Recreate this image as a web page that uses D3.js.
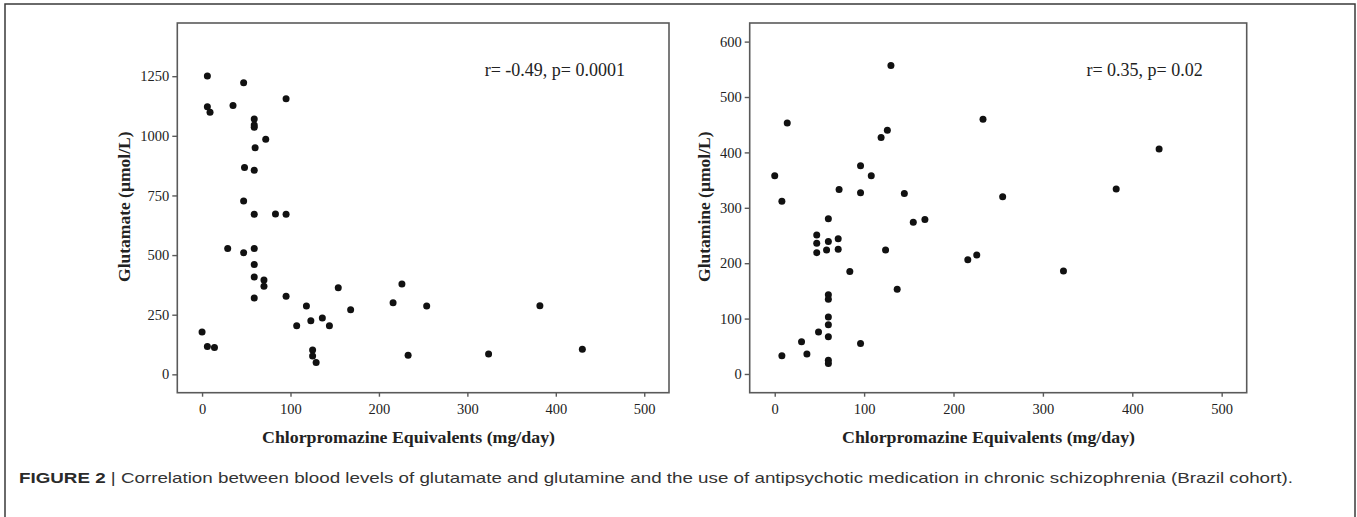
<!DOCTYPE html>
<html>
<head>
<meta charset="utf-8">
<script src="https://cdn.jsdelivr.net/npm/d3@7"></script>
<style>
  body { margin: 0; background: #fff; }
  svg { display: block; }
</style>
</head>
<body>
<svg id="fig" width="1357" height="517"></svg>
<script>
// Chlorpromazine equivalents (mg/day) vs glutamate (left panel)
const cpeGlutamate = [6, 47, 95, 6, 9, 35, 59, 59, 59, 72, 60, 48, 59, 47, 59, 83, 95, 29, 47, 59,
    59, 59, 70, 70, 59, 95, 0, 6, 14, 107, 118, 123, 136, 144, 125, 125, 129, 154, 168, 216,
    226, 254, 382, 233, 324, 430];
const glutamate = [1251, 1222, 1155, 1122, 1099, 1127, 1071, 1045, 1036, 986, 950, 867, 856, 727, 671, 672, 671, 528, 510, 528,
    461, 408, 396, 369, 320, 327, 177, 117, 112, 204, 286, 225, 236, 204, 102, 77, 50, 363, 271, 300,
    379, 286, 288, 80, 85, 105];

// Chlorpromazine equivalents (mg/day) vs glutamine (right panel)
const cpeGlutamine = [130, 14, 119, 126, 0, 96, 108, 72, 96, 145, 8, 60, 155, 168, 47, 47, 47, 60, 58, 71,
    71, 124, 84, 137, 60, 60, 60, 60, 49, 60, 30, 96, 8, 36, 60, 60, 216, 226, 430, 382,
    255, 233, 323];
const glutamine = [557, 453, 427, 440, 358, 376, 358, 333, 327, 326, 312, 280, 274, 279, 251, 236, 219, 239, 224, 244,
    225, 224, 185, 153, 143, 135, 103, 89, 76, 67, 58, 55, 33, 36, 25, 19, 206, 215, 406, 334,
    320, 460, 186];

const xTicks = [0, 100, 200, 300, 400, 500];
const glutamateTicks = [0, 250, 500, 750, 1000, 1250];
const glutamineTicks = [0, 100, 200, 300, 400, 500, 600];

const svg = d3.select("#fig");

// outer figure frame
svg.append("rect")
    .attr("x", 5).attr("y", 4)
    .attr("width", 1350).attr("height", 540)
    .attr("fill", "none")
    .attr("stroke", "#3a3a3a")
    .attr("stroke-width", 1.5);

const plotTop = 23, plotBottom = 392.7;
const serif = "'Liberation Serif', 'Times New Roman', serif";

function drawPanel(opt) {
    const x = d3.scaleLinear().domain([-28, 528]).range([opt.left, opt.right]);
    const y = d3.scaleLinear().domain(opt.yDomain).range([plotBottom, plotTop]);
    const g = svg.append("g");

    g.append("rect")
        .attr("x", opt.left).attr("y", plotTop)
        .attr("width", opt.right - opt.left).attr("height", plotBottom - plotTop)
        .attr("fill", "none")
        .attr("stroke", "#5a5a5a")
        .attr("stroke-width", 1.6);

    const xAxis = g.append("g")
        .attr("transform", `translate(0,${plotBottom})`)
        .call(d3.axisBottom(x).tickValues(xTicks).tickFormat(d3.format("d")).tickSize(4).tickPadding(7));

    const yAxis = g.append("g")
        .attr("transform", `translate(${opt.left},0)`)
        .call(d3.axisLeft(y).tickValues(opt.yTicks).tickFormat(d3.format("d")).tickSize(5).tickPadding(3));

    [xAxis, yAxis].forEach(a => {
        a.attr("font-family", serif).attr("font-size", 14.5);
        a.select(".domain").remove();
        a.selectAll(".tick line").attr("stroke", "#5a5a5a").attr("stroke-width", 1.4);
        a.selectAll(".tick text").attr("fill", "#222");
    });

    g.selectAll("circle.dot")
        .data(opt.xs.map((v, i) => [v, opt.ys[i]]))
        .enter().append("circle")
        .attr("class", "dot")
        .attr("cx", d => x(d[0]))
        .attr("cy", d => y(d[1]))
        .attr("r", 3.5)
        .attr("fill", "#111");

    g.append("text")
        .attr("x", opt.right - 44)
        .attr("y", 76)
        .attr("text-anchor", "end")
        .attr("fill", "#222")
        .style("font-family", serif)
        .style("font-size", "18px")
        .text(opt.stat);

    g.append("text")
        .attr("x", opt.xTitleX)
        .attr("y", 443)
        .attr("text-anchor", "middle")
        .attr("textLength", 293)
        .attr("lengthAdjust", "spacingAndGlyphs")
        .attr("fill", "#222")
        .style("font-family", serif)
        .style("font-weight", "bold")
        .style("font-size", "17.5px")
        .text("Chlorpromazine Equivalents (mg/day)");

    g.append("text")
        .attr("transform", `translate(${opt.yTitleX},206.7) rotate(-90)`)
        .attr("text-anchor", "middle")
        .attr("fill", "#222")
        .style("font-family", serif)
        .style("font-weight", "bold")
        .style("font-size", "17.5px")
        .text(opt.yTitle);
}

drawPanel({
    left: 177.3, right: 669,
    yDomain: [-77, 1473], yTicks: glutamateTicks,
    xs: cpeGlutamate, ys: glutamate,
    stat: "r= -0.49, p= 0.0001",
    xTitleX: 408.5, yTitleX: 129.5,
    yTitle: "Glutamate (µmol/L)"
});

drawPanel({
    left: 749.7, right: 1246.7,
    yDomain: [-33.8, 633.6], yTicks: glutamineTicks,
    xs: cpeGlutamine, ys: glutamine,
    stat: "r= 0.35, p= 0.02",
    xTitleX: 988.5, yTitleX: 709.5,
    yTitle: "Glutamine (µmol/L)"
});

// caption
const caption = svg.append("text")
    .attr("x", 19)
    .attr("y", 483)
    .attr("fill", "#333")
    .style("font-family", "'Liberation Sans', Arial, sans-serif")
    .style("font-size", "15px");
caption.append("tspan").style("font-weight", "bold").attr("fill", "#2a2a2a").text("FIGURE 2");
caption.append("tspan").text(" | Correlation between blood levels of glutamate and glutamine and the use of antipsychotic medication in chronic schizophrenia (Brazil cohort).");
caption.attr("textLength", 1274).attr("lengthAdjust", "spacingAndGlyphs");
</script>
</body>
</html>
